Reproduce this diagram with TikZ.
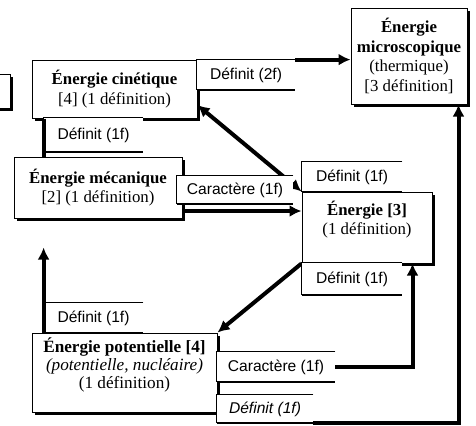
\documentclass[tikz,border=0pt]{standalone}
\usepackage{fontspec}
\setmainfont{Liberation Serif}
\newfontfamily\sansfont{Liberation Sans}
\usetikzlibrary{arrows.meta,shadows}

\begin{document}
\begin{tikzpicture}[x=0.5pt,y=-0.5pt,>={Latex[length=6pt,width=6pt]},
  concept/.style={draw,fill=white,line width=0.5pt,align=center,inner sep=1pt,
    font=\fontsize{8.4}{9.8}\selectfont,
    drop shadow={shadow xshift=1.4pt,shadow yshift=-1.4pt,opacity=1,fill=black}},
  linkbox/.style={fill=white,inner sep=0pt,minimum height=15pt,
    font=\sansfont\fontsize{7.8}{9}\selectfont},
  conn/.style={line width=2pt}]
  \useasboundingbox (0,0) rectangle (476,425);
  \clip (0,0) rectangle (476,425);
  % concepts
  \node[concept,minimum width=12.5pt,minimum height=17pt] (cut) at (-2.5,91) {};
  \node[concept,minimum width=82.5pt,minimum height=29pt] (cin) at (114.5,89)
    {\textbf{Énergie cinétique}\\{[4]} (1 définition)};
  \node[concept,minimum width=84pt,minimum height=30.5pt] (meca) at (98,187.5)
    {\textbf{Énergie mécanique}\\{[2]} (1 définition)};
  \node[concept,minimum width=58pt,minimum height=48pt] (micro) at (409,56)
    {\textbf{Énergie}\\\textbf{microscopique}\\(thermique)\\{[3 définition]}};
  \node[concept,minimum width=65pt,minimum height=35.5pt] (nrj) at (367,227.5)
    {\textbf{Énergie [3]}\\(1 définition)\\\mbox{}};
  \node[concept,minimum width=92.5pt,minimum height=39.5pt,
    font=\fontsize{8.6}{9}\selectfont] (pot) at (124.5,372.5)
    {\textbf{Énergie potentielle [4]}\\\textit{(potentielle, nucléaire)}\\(1 définition)\\\mbox{}};
  % arrows lying under the labels
  \draw[conn,<->] ([yshift=-8pt]cin.east) -- (nrj.north west);
  \draw[conn,->] ([yshift=-11.75pt]meca.east) -- ([yshift=-11.75pt]meca.east -| nrj.west);
  \draw[conn,->] (nrj.south west) -- (pot.north east);
  % link labels
  \node[linkbox,minimum width=49pt] (l1) at (246,75) {Définit (2f)};
  \node[linkbox,minimum width=49.5pt,minimum height=17pt] (l2) at (93.5,135) {Définit (1f)};
  \node[linkbox,minimum width=58pt,minimum height=14pt] (l3) at (235,190) {Caractère (1f)};
  \node[linkbox,minimum width=50pt] (l4) at (352,177) {Définit (1f)};
  \node[linkbox,minimum width=50pt,minimum height=16pt] (l5) at (352,279) {Définit (1f)};
  \node[linkbox,minimum width=49.5pt] (l6) at (93.5,318) {Définit (1f)};
  \node[linkbox,minimum width=59pt] (l7) at (276,367) {Caractère (1f)};
  \node[linkbox,minimum width=48pt,minimum height=14pt,font=\sansfont\itshape\fontsize{7.8}{9}\selectfont]
    (l8) at (265,409) {Définit (1f)};
  \foreach \l in {l1,l2,l3,l4,l5,l6,l7,l8}{
    \draw (\l.north east) -- (\l.north west) -- (\l.south west);
    \draw[line width=1pt] (\l.south west) -- (\l.south east);
  }
  % connectors
  \draw[conn,->] (l1.north east) -- (l1.north east -| micro.west);
  \draw[conn] (l2.west |- cin.south) -- (l2.west |- meca.north);
  \coordinate (tip) at ([yshift=-14.5pt]l6.west |- meca.south);
  \draw[conn,->] (l6.west |- pot.north) -- (tip);
  \draw[conn,->] (l7.east) -| ([xshift=-10pt]nrj.south east);
  \draw[conn,->] (l8.south east) -| ([xshift=-4.5pt]micro.south east);
\end{tikzpicture}
\end{document}
